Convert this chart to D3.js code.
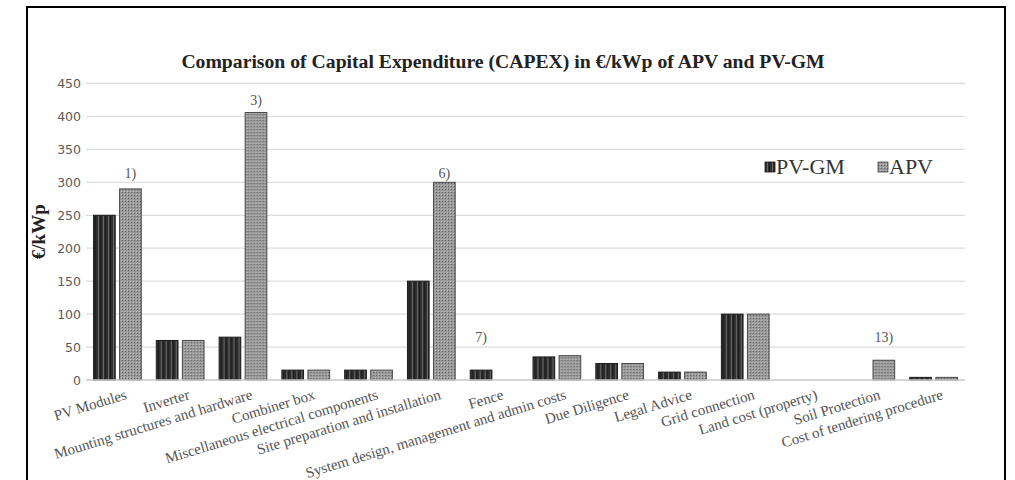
<!DOCTYPE html>
<html>
<head>
<meta charset="utf-8">
<script src="https://cdn.jsdelivr.net/npm/d3@7"></script>
<style>
  html, body { margin: 0; padding: 0; background: #fff; }
  svg { display: block; }
</style>
</head>
<body>
<svg id="chart" width="1015" height="480"></svg>
<script>
// CAPEX cost items (€/kWp)
const categories = [
  "PV Modules",
  "Inverter",
  "Mounting structures and hardware",
  "Combiner box",
  "Miscellaneous electrical components",
  "Site preparation and installation",
  "Fence",
  "System design, management and admin costs",
  "Due Diligence",
  "Legal Advice",
  "Grid connection",
  "Land cost (property)",
  "Soil Protection",
  "Cost of tendering procedure"
];
const seriesNames = ["PV-GM", "APV"];
const pvgmValues = [250, 60, 65, 15, 15, 150, 15, 35, 25, 12, 100, 0, 0, 4];
const apvValues  = [290, 60, 406, 15, 15, 300, 0, 37, 25, 12, 100, 0, 30, 4];
const yTicks = [0, 50, 100, 150, 200, 250, 300, 350, 400, 450];

// Footnote markers: category index, series, text, value level of the baseline
const footnoteCat    = [0, 2, 5, 6, 12];
const footnoteSeries = ["APV", "APV", "APV", "PV-GM", "APV"];
const footnoteText   = ["1)", "3)", "6)", "7)", "13)"];
const footnoteLevel  = [306, 418, 307, 57, 57];

const titleText = "Comparison of Capital Expenditure (CAPEX) in \u20AC/kWp of APV and PV-GM";
const yTitle = "\u20AC/kWp";

const rows = categories.map((c, i) => ({ cat: c, "PV-GM": pvgmValues[i], "APV": apvValues[i] }));

const svg = d3.select("#chart");
const plot = { left: 86, right: 965, top: 83.5, bottom: 380 };

// Patterns for the two series
const defs = svg.append("defs");
const pg = defs.append("pattern").attr("id", "pat-pvgm")
  .attr("patternUnits", "userSpaceOnUse").attr("width", 5).attr("height", 4);
pg.append("rect").attr("width", 5).attr("height", 4).attr("fill", "#2e2e2e");
pg.append("rect").attr("x", 2).attr("width", 1).attr("height", 4).attr("fill", "#6a6a6a");
pg.append("rect").attr("x", 4).attr("width", 1).attr("height", 4).attr("fill", "#1c1c1c");

const pa = defs.append("pattern").attr("id", "pat-apv")
  .attr("patternUnits", "userSpaceOnUse").attr("width", 3).attr("height", 3);
pa.append("rect").attr("width", 3).attr("height", 3).attr("fill", "#9a9a9a");
pa.append("rect").attr("x", 0).attr("y", 0).attr("width", 1).attr("height", 1).attr("fill", "#5e5e5e");
pa.append("rect").attr("x", 2).attr("y", 2).attr("width", 1).attr("height", 1).attr("fill", "#c0c0c0");

const fills = { "PV-GM": "url(#pat-pvgm)", "APV": "url(#pat-apv)" };
const strokes = { "PV-GM": "#1a1a1a", "APV": "#4a4a4a" };

// Outer frame
svg.append("rect")
  .attr("x", 27).attr("y", 7).attr("width", 978).attr("height", 500)
  .attr("fill", "none").attr("stroke", "#000").attr("stroke-width", 2);

// Scales
const x0 = d3.scaleBand().domain(categories).range([plot.left, plot.right]).padding(0);
const x1 = d3.scaleBand().domain(seriesNames).range([0, x0.bandwidth()])
  .paddingInner(0.13).paddingOuter(0.27);
const y = d3.scaleLinear().domain([0, 450]).range([plot.bottom, plot.top]);

// Gridlines
svg.append("g")
  .selectAll("line").data(yTicks.filter(t => t > 0)).join("line")
  .attr("x1", plot.left).attr("x2", plot.right)
  .attr("y1", d => y(d)).attr("y2", d => y(d))
  .attr("stroke", "#dcdcdc").attr("stroke-width", 1.3);

// Y axis labels
const yAxis = d3.axisLeft(y).tickValues(yTicks).tickSize(0).tickPadding(5);
const yg = svg.append("g").attr("transform", `translate(${plot.left},0)`).call(yAxis);
yg.select(".domain").remove();
yg.selectAll("text")
  .attr("font-family", "DejaVu Sans, sans-serif")
  .attr("font-size", 12.5).attr("fill", "#5a5a5a");

// Bars
const groups = svg.append("g").selectAll("g").data(rows).join("g")
  .attr("transform", d => `translate(${x0(d.cat)},0)`);
groups.selectAll("rect")
  .data(d => seriesNames.map(s => ({ s, v: d[s] })).filter(e => e.v > 0))
  .join("rect")
  .attr("x", d => x1(d.s) + 0.5)
  .attr("y", d => y(d.v))
  .attr("width", x1.bandwidth() - 1)
  .attr("height", d => y(0) - y(d.v))
  .attr("fill", d => fills[d.s])
  .attr("stroke", d => strokes[d.s])
  .attr("stroke-width", 1);

// Zero line
svg.append("line")
  .attr("x1", plot.left).attr("x2", plot.right)
  .attr("y1", y(0)).attr("y2", y(0))
  .attr("stroke", "#c8c8c8").attr("stroke-width", 1.3);

// Category labels, rotated
const xAxis = d3.axisBottom(x0).tickSize(0).tickPadding(0);
const xg = svg.append("g").attr("transform", `translate(0,${plot.bottom})`).call(xAxis);
xg.select(".domain").remove();
xg.selectAll(".tick text")
  .attr("font-family", "Liberation Serif, Times New Roman, serif")
  .attr("font-size", 15).attr("fill", "#555")
  .attr("text-anchor", "end")
  .attr("x", 0).attr("y", 0).attr("dy", "0.75em")
  .attr("transform", "translate(7,8) rotate(-17)");

// Footnote markers
svg.append("g").selectAll("text").data(footnoteText).join("text")
  .attr("x", (t, i) => x0(categories[footnoteCat[i]]) + x1(footnoteSeries[i]) + x1.bandwidth() / 2)
  .attr("y", (t, i) => y(footnoteLevel[i]))
  .attr("text-anchor", "middle")
  .attr("font-family", "Liberation Serif, Times New Roman, serif")
  .attr("font-size", 14).attr("fill", "#555")
  .text(t => t);

// Title
svg.append("text")
  .attr("x", 503).attr("y", 68)
  .attr("text-anchor", "middle")
  .attr("font-family", "Liberation Serif, Times New Roman, serif")
  .attr("font-weight", "bold").attr("font-size", 19.7).attr("fill", "#222")
  .text(titleText);

// Y axis title
svg.append("text")
  .attr("transform", `translate(45,${(plot.top + plot.bottom) / 2}) rotate(-90)`)
  .attr("text-anchor", "middle")
  .attr("font-family", "Liberation Serif, Times New Roman, serif")
  .attr("font-weight", "bold").attr("font-size", 19).attr("fill", "#222")
  .text(yTitle);

// Legend
const legendX = [765, 878];
const lg = svg.append("g").selectAll("g").data(seriesNames).join("g")
  .attr("transform", (d, i) => `translate(${legendX[i]},174)`);
lg.append("rect").attr("x", 0).attr("y", -12).attr("width", 10).attr("height", 10)
  .attr("fill", d => fills[d]).attr("stroke", d => strokes[d]).attr("stroke-width", 0.8);
lg.append("text").attr("x", 11).attr("y", 0)
  .attr("font-family", "Liberation Serif, Times New Roman, serif")
  .attr("font-size", 22).attr("fill", "#333")
  .text(d => d);
</script>
</body>
</html>
